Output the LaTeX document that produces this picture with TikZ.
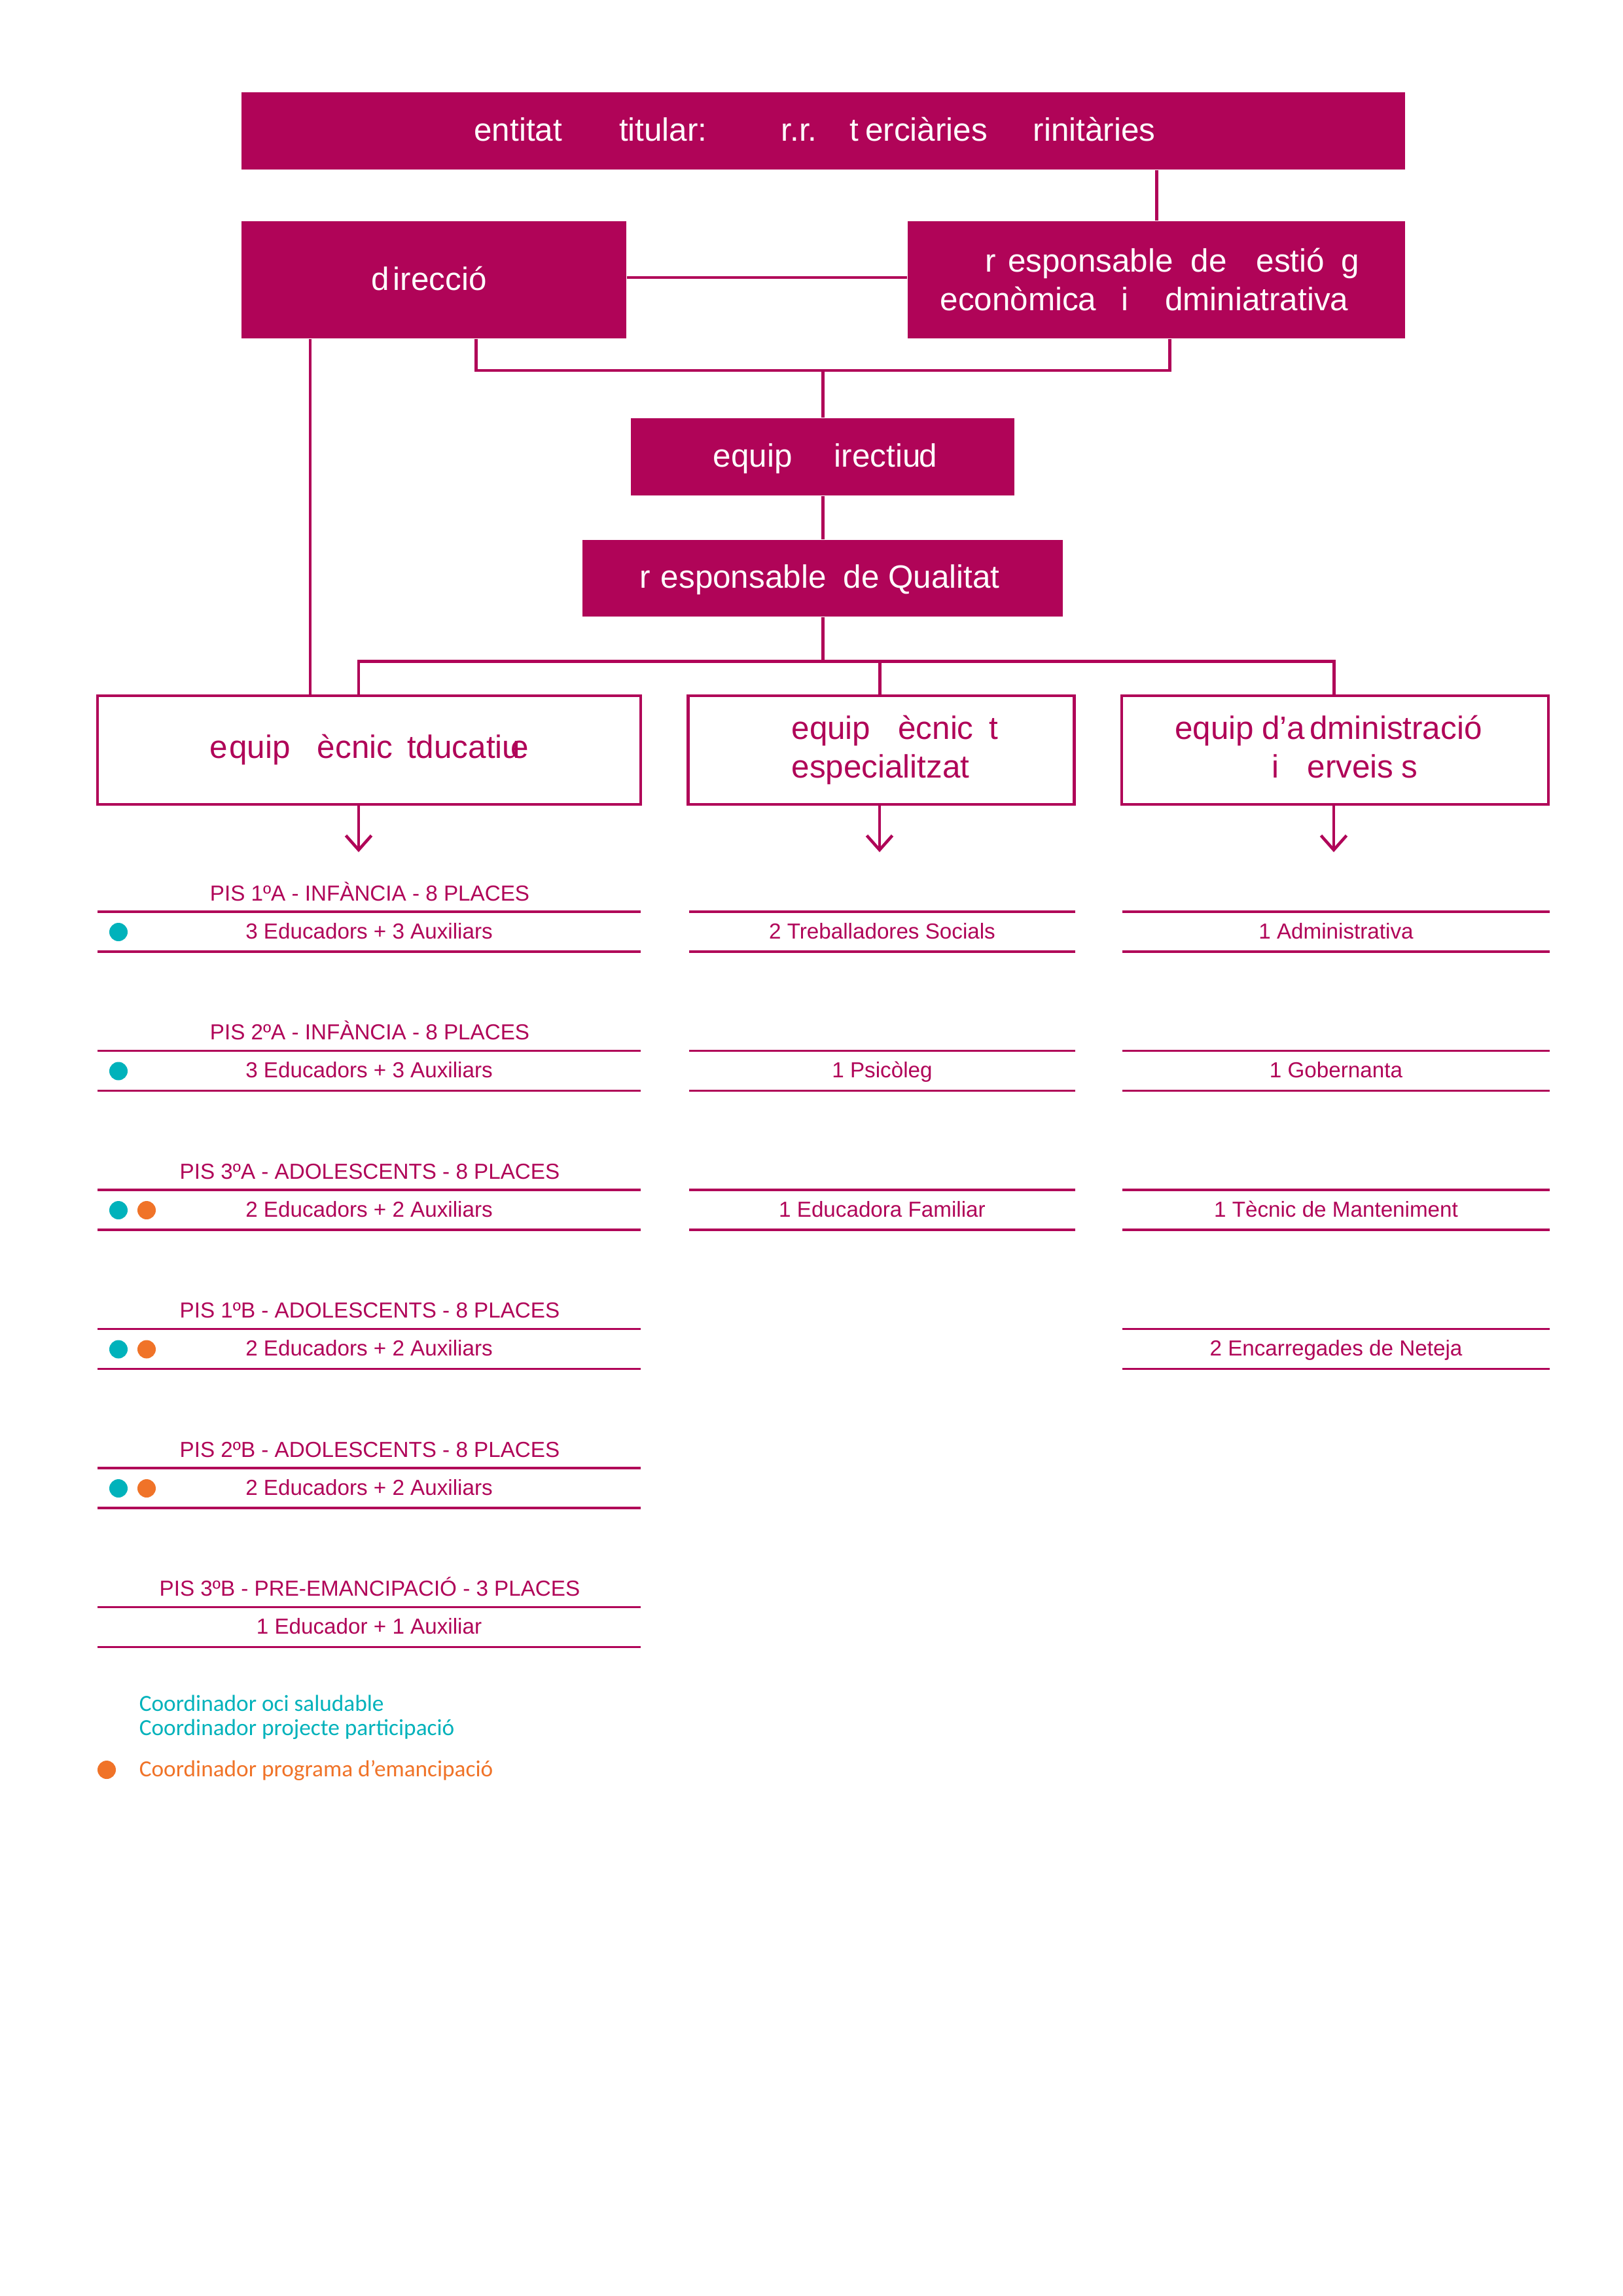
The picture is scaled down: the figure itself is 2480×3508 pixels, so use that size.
\documentclass[tikz,border=0pt]{standalone}
\usepackage{fontspec}
\setmainfont{Liberation Sans}
\newfontfamily\legfont{Carlito}
\usetikzlibrary{arrows.meta,calc}
\definecolor{mag}{RGB}{176,4,88}
\definecolor{tealc}{RGB}{0,178,187}
\definecolor{orangec}{RGB}{240,115,40}
\newdimen\pxu
\pxu=0.0846774mm
\begin{document}
\begin{tikzpicture}[x=\pxu,y=-\pxu,
  hbase/.style={fill=mag,text=white,inner sep=0pt,font=\fontsize{11.9}{14.2}\selectfont},
  hbox/.style={hbase,text height=8.7pt,text depth=1pt},
  tbase/.style={draw=mag,line width=1.1pt,fill=white,text=mag,inner sep=0pt,font=\fontsize{11.9}{14.2}\selectfont},
  conn/.style={draw=mag,line width=1.2pt},
  arr/.style={draw=mag,line width=1.1pt,-{Straight Barb[length=5.3pt,width=9.4pt]}},
  titletxt/.style={text=mag,inner sep=0pt,font=\fontsize{8}{9.6}\selectfont},
  rowtxt/.style={text=mag,inner sep=0pt,font=\fontsize{8}{9.6}\selectfont,minimum height=59*\pxu,text height=6pt,text depth=0.92pt},
  rowline/.style={draw=mag,line width=0.85pt},
  dot/.style={circle,inner sep=0pt,minimum size=28*\pxu},
  legtxt/.style={inner sep=0pt,font=\legfont\fontsize{8.5}{10}\selectfont}
]
\fill[white] (0,0) rectangle (2480,3508);
\useasboundingbox (0,0) rectangle (2480,3508);

% top-level boxes
\node[hbox,minimum width=1778*\pxu,minimum height=118*\pxu] (top) at (1258,200)
  {entitat\hspace{87\pxu}titular:\hspace{113\pxu}r.r.\hspace{50\pxu}t\hspace{10\pxu}erciàries\hspace{70\pxu}rinitàries\hspace*{26\pxu}};
\node[hbox,minimum width=588*\pxu,minimum height=179*\pxu] (dir) at (663,427.5)
  {d\kern6\pxu irecció\hspace*{15\pxu}};
\node[hbase,align=left,minimum width=760*\pxu,minimum height=179*\pxu] (gest) at (1767,427.5)
  {\hspace*{69\pxu}r\hspace{18\pxu}esponsable\hspace{27\pxu}de\hspace{45\pxu}estió\hspace{26\pxu}g\hspace*{20\pxu}\\econòmica\hspace{38\pxu}i\hspace{56\pxu}dminiatrativa};
\node[hbox,minimum width=586*\pxu,minimum height=118*\pxu] (edir) at (1257,698)
  {\hspace*{8\pxu}equip\hspace{64\pxu}irectiu\kern-2\pxu d};
\node[hbox,text height=8.4pt,minimum width=734*\pxu,minimum height=117*\pxu] (qual) at (1257,883.5)
  {r\hspace{16\pxu}esponsable\hspace{26\pxu}de Qualitat\hspace*{9\pxu}};

% team boxes
\node[tbase,text height=7.2pt,text depth=1pt,minimum width=830*\pxu,minimum height=166*\pxu] (edu) at (564,1146)
  {e\kern3\pxu quip\hspace{41\pxu}ècnic\hspace{22\pxu}tducatiu\kern-0.3em e};
\node[tbase,align=left,minimum width=590*\pxu,minimum height=166*\pxu] (esp) at (1346.5,1146)
  {\hspace*{42\pxu}equip\hspace{42\pxu}ècnic\hspace{24\pxu}t\\\hspace*{42\pxu}especialitzat};
\node[tbase,align=center,minimum width=652*\pxu,minimum height=166*\pxu] (adm) at (2040,1146)
  {equip\hspace{12\pxu}d’a\kern7\pxu dministració\hspace*{20\pxu}\\\hspace*{30\pxu}i\hspace{43\pxu}erveis\hspace{12\pxu}s\vphantom{p}};

% connectors
\coordinate (tg) at (1767,0);
\draw[conn] (tg |- top.south) -- (tg |- gest.north);
\coordinate (dg) at (0,424);
\draw[conn] (dg -| dir.east) -- (dg -| gest.west);
\coordinate (brk) at (1257,566);
\coordinate (bl) at (727,0);
\coordinate (br) at (1787,0);
\draw[conn] (bl |- dir.south) |- (brk) -| (br |- gest.south);
\draw[conn] (brk) -- (edir.north);
\draw[conn] (edir.south) -- (qual.north);
\coordinate (dl) at (474,0);
\draw[conn] (dl |- dir.south) -- (dl |- edu.north);
\coordinate (hub) at (1257,1010);
\coordinate (ea) at (548,1302);
\coordinate (eb) at (1344,1302);
\coordinate (ec) at (2038,1302);
\draw[conn] (qual.south) -- (hub);
\draw[conn] (ea |- edu.north) |- (hub) -| (ec |- adm.north);
\draw[conn] (hub -| eb) -- (eb |- esp.north);
\draw[arr] (ea |- edu.south) -- (ea);
\draw[arr] (eb |- esp.south) -- (eb);
\draw[arr] (ec |- adm.south) -- (ec);

% left column
\foreach \i/\ti/\tx/\nd in {0/PIS 1ºA - INFÀNCIA - 8 PLACES/3 Educadors + 3 Auxiliars/1,
  1/PIS 2ºA - INFÀNCIA - 8 PLACES/3 Educadors + 3 Auxiliars/1,
  2/PIS 3ºA - ADOLESCENTS - 8 PLACES/2 Educadors + 2 Auxiliars/2,
  3/PIS 1ºB - ADOLESCENTS - 8 PLACES/2 Educadors + 2 Auxiliars/2,
  4/PIS 2ºB - ADOLESCENTS - 8 PLACES/2 Educadors + 2 Auxiliars/2,
  5/PIS 3ºB - PRE-EMANCIPACIÓ - 3 PLACES/1 Educador + 1 Auxiliar/0}{
  \pgfmathsetmacro\tp{1394+212.5*\i}
  \node[titletxt,anchor=base] (ta\i) at (565,\tp-18) {\ti};
  \node[rowtxt,minimum width=828*\pxu] (ra\i) at (564,\tp+29.5) {\tx};
  \draw[rowline] (ra\i.north west) -- (ra\i.north east) (ra\i.south west) -- (ra\i.south east);
  \ifnum\nd>0 \node[dot,fill=tealc] (da\i) at (181,\tp+30) {};\fi
  \ifnum\nd>1 \node[dot,fill=orangec] (oa\i) at (224,\tp+30) {};\fi
}

% middle column
\foreach \i/\tx in {0/2 Treballadores Socials,1/1 Psicòleg,2/1 Educadora Familiar}{
  \pgfmathsetmacro\tp{1394+212.5*\i}
  \node[rowtxt,minimum width=588*\pxu] (rb\i) at (1348,\tp+29.5) {\tx};
  \draw[rowline] (rb\i.north west) -- (rb\i.north east) (rb\i.south west) -- (rb\i.south east);
}

% right column
\foreach \i/\tx in {0/1 Administrativa,1/1 Gobernanta,2/1 Tècnic de Manteniment,3/2 Encarregades de Neteja}{
  \pgfmathsetmacro\tp{1394+212.5*\i}
  \node[rowtxt,minimum width=651*\pxu] (rc\i) at (2041.5,\tp+29.5) {\tx};
  \draw[rowline] (rc\i.north west) -- (rc\i.north east) (rc\i.south west) -- (rc\i.south east);
}

% legend
\node[legtxt,text=tealc,anchor=base west] (lg1) at (212,2614) {Coordinador oci saludable};
\node[legtxt,text=tealc,anchor=base west] (lg2) at (212,2651) {Coordinador projecte participació};
\node[legtxt,text=orangec,anchor=base west] (lg3) at (212,2714) {Coordinador programa d’emancipació};
\node[dot,fill=orangec] (lgd) at (163,2704) {};
\end{tikzpicture}
\end{document}
